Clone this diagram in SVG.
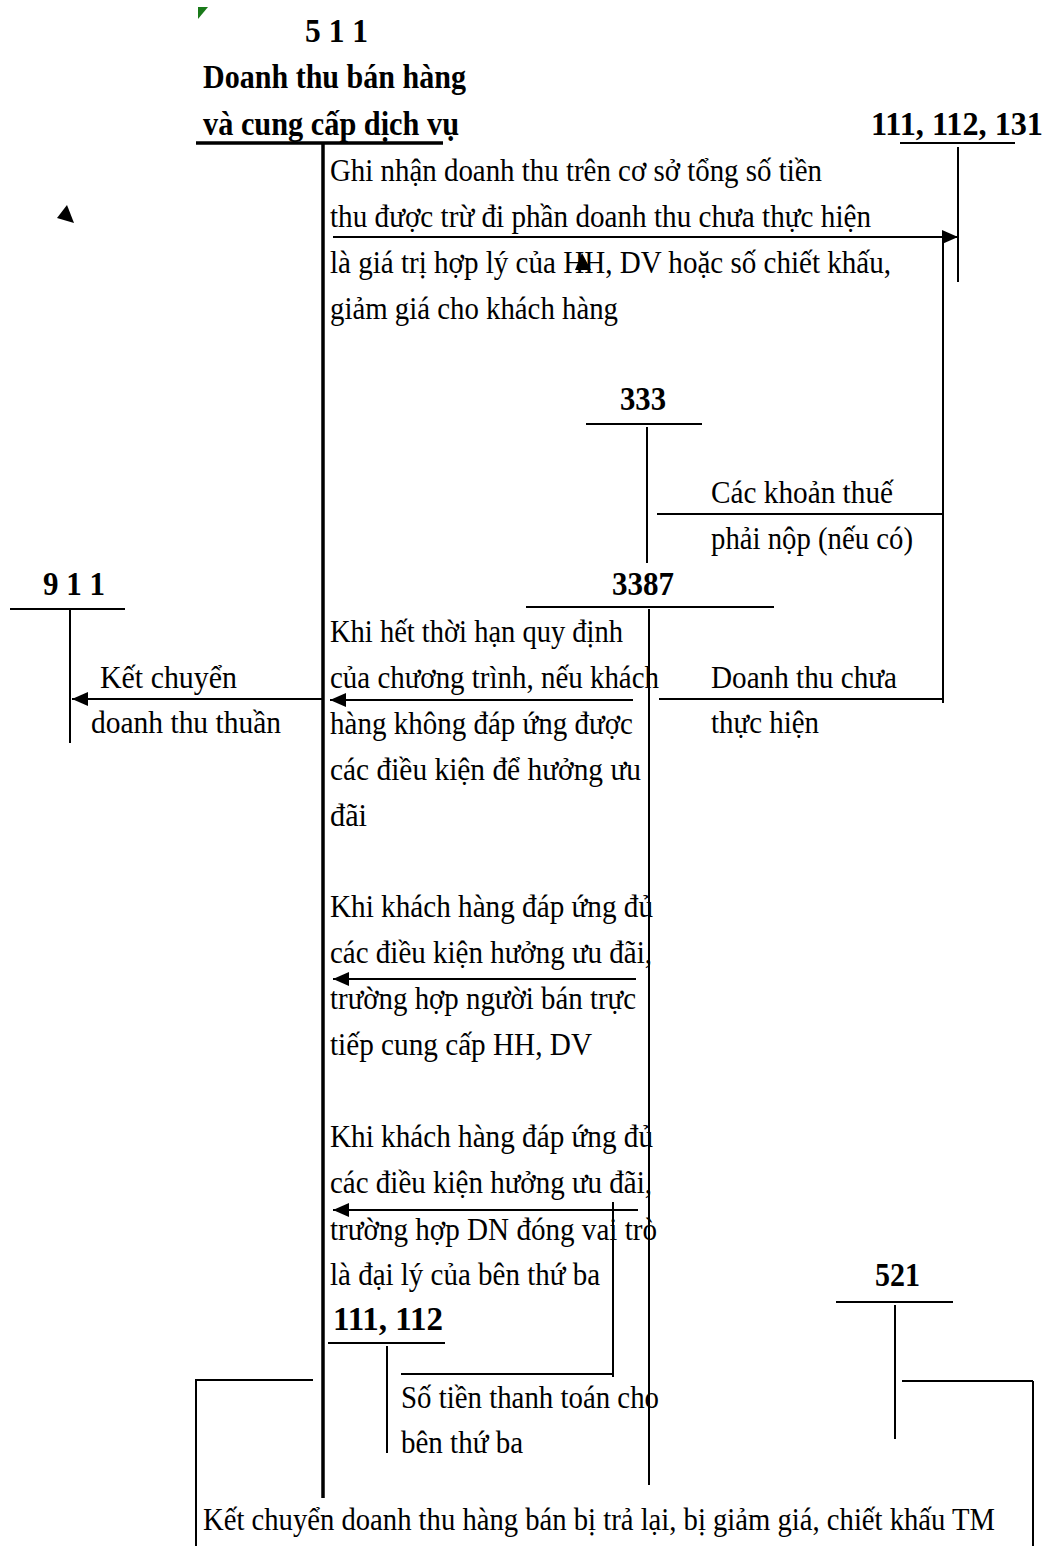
<svg xmlns="http://www.w3.org/2000/svg" width="1053" height="1546" viewBox="0 0 1053 1546">
<style>
  .t { font-family: "Liberation Serif", "Times New Roman", serif; font-size: 32px; fill: #000; }
  .b { font-family: "Liberation Serif", "Times New Roman", serif; font-size: 33px; font-weight: bold; fill: #000; }
  .ln { stroke: #000; stroke-width: 2; fill: none; }
  .thick { stroke: #000; stroke-width: 3.5; fill: none; }
  .arr { stroke: #000; stroke-width: 2; fill: none; marker-end: url(#ah); }
</style>
<defs>
  <marker id="ah" viewBox="0 0 16 14" markerUnits="userSpaceOnUse" markerWidth="16" markerHeight="14" refX="16" refY="7" orient="auto">
    <path d="M0,0 L16,7 L0,14 z" fill="#000"/>
  </marker>
</defs>
<rect width="1053" height="1546" fill="#fff"/>

<g id="stray-marks">
  <polygon points="198,7 208,7 198,19" fill="#1a7a1a"/>
  <polygon points="67,205 57,218 74,223" fill="#000"/>
  <polygon points="582,253 575,270 591,270" fill="#000"/>
</g>

<g id="acc-511">
  <text class="b" x="305" y="42" textLength="63" lengthAdjust="spacingAndGlyphs">5 1 1</text>
  <text class="b" x="203" y="88" textLength="263" lengthAdjust="spacingAndGlyphs">Doanh thu bán hàng</text>
  <text class="b" x="203" y="135" textLength="256" lengthAdjust="spacingAndGlyphs">và cung cấp dịch vụ</text>
  <line class="thick" x1="196" y1="143" x2="443" y2="143"/>
  <line class="thick" x1="323" y1="143" x2="323" y2="1498"/>
</g>

<g id="acc-111-112-131">
  <text class="b" x="871" y="135" textLength="172" lengthAdjust="spacingAndGlyphs">111, 112, 131</text>
  <line class="ln" x1="900" y1="143" x2="1015" y2="143"/>
  <line class="ln" x1="958" y1="147" x2="958" y2="282"/>
</g>

<g id="acc-333">
  <text class="b" x="620" y="410" textLength="46" lengthAdjust="spacingAndGlyphs">333</text>
  <line class="ln" x1="586" y1="424" x2="702" y2="424"/>
  <line class="ln" x1="647" y1="427" x2="647" y2="563"/>
</g>

<g id="acc-3387">
  <text class="b" x="612" y="595" textLength="62" lengthAdjust="spacingAndGlyphs">3387</text>
  <line class="ln" x1="526" y1="607" x2="774" y2="607"/>
  <line class="ln" x1="649" y1="609" x2="649" y2="1485"/>
</g>

<g id="acc-911">
  <text class="b" x="43" y="595" textLength="62" lengthAdjust="spacingAndGlyphs">9 1 1</text>
  <line class="ln" x1="10" y1="609" x2="125" y2="609"/>
  <line class="ln" x1="70" y1="610" x2="70" y2="743"/>
</g>

<g id="acc-111-112">
  <text class="b" x="333" y="1330" textLength="110" lengthAdjust="spacingAndGlyphs">111, 112</text>
  <line class="ln" x1="328" y1="1343" x2="445" y2="1343"/>
  <line class="ln" x1="387" y1="1346" x2="387" y2="1453"/>
</g>

<g id="acc-521">
  <text class="b" x="875" y="1286" textLength="45" lengthAdjust="spacingAndGlyphs">521</text>
  <line class="ln" x1="836" y1="1302" x2="953" y2="1302"/>
  <line class="ln" x1="895" y1="1305" x2="895" y2="1439"/>
</g>

<g id="connectors">
  <line class="arr" x1="333" y1="237" x2="958" y2="237"/>
  <line class="ln" x1="943" y1="237" x2="943" y2="703"/>
  <line class="ln" x1="657" y1="514" x2="943" y2="514"/>
  <line class="ln" x1="659" y1="699" x2="943" y2="699"/>
  <line class="arr" x1="633" y1="700" x2="330" y2="700"/>
  <line class="arr" x1="323" y1="699" x2="72" y2="699"/>
  <line class="arr" x1="636" y1="979" x2="333" y2="979"/>
  <line class="arr" x1="638" y1="1210" x2="333" y2="1210"/>
  <line class="ln" x1="613" y1="1202" x2="613" y2="1377"/>
  <line class="ln" x1="401" y1="1374" x2="613" y2="1374"/>
  <line class="ln" x1="196" y1="1380" x2="313" y2="1380"/>
  <line class="ln" x1="196" y1="1379" x2="196" y2="1546"/>
  <line class="ln" x1="902" y1="1381" x2="1033" y2="1381"/>
  <line class="ln" x1="1033" y1="1381" x2="1033" y2="1546"/>
</g>

<g id="labels">
  <text class="t" x="330" y="181" textLength="492" lengthAdjust="spacingAndGlyphs">Ghi nhận doanh thu trên cơ sở tổng số tiền</text>
  <text class="t" x="330" y="227" textLength="541" lengthAdjust="spacingAndGlyphs">thu được trừ đi phần doanh thu chưa thực hiện</text>
  <text class="t" x="330" y="273" textLength="561" lengthAdjust="spacingAndGlyphs">là giá trị hợp lý của HH, DV hoặc số chiết khấu,</text>
  <text class="t" x="330" y="319" textLength="288" lengthAdjust="spacingAndGlyphs">giảm giá cho khách hàng</text>

  <text class="t" x="711" y="503" textLength="182" lengthAdjust="spacingAndGlyphs">Các khoản thuế</text>
  <text class="t" x="711" y="549" textLength="202" lengthAdjust="spacingAndGlyphs">phải nộp (nếu có)</text>

  <text class="t" x="711" y="688" textLength="186" lengthAdjust="spacingAndGlyphs">Doanh thu chưa</text>
  <text class="t" x="711" y="733" textLength="108" lengthAdjust="spacingAndGlyphs">thực hiện</text>

  <text class="t" x="100" y="688" textLength="137" lengthAdjust="spacingAndGlyphs">Kết chuyển</text>
  <text class="t" x="91" y="733" textLength="190" lengthAdjust="spacingAndGlyphs">doanh thu thuần</text>

  <text class="t" x="330" y="642" textLength="293" lengthAdjust="spacingAndGlyphs">Khi hết thời hạn quy định</text>
  <text class="t" x="330" y="688" textLength="329" lengthAdjust="spacingAndGlyphs">của chương trình, nếu khách</text>
  <text class="t" x="330" y="734" textLength="303" lengthAdjust="spacingAndGlyphs">hàng không đáp ứng được</text>
  <text class="t" x="330" y="780" textLength="311" lengthAdjust="spacingAndGlyphs">các điều kiện để hưởng ưu</text>
  <text class="t" x="330" y="826" textLength="37" lengthAdjust="spacingAndGlyphs">đãi</text>

  <text class="t" x="330" y="917" textLength="323" lengthAdjust="spacingAndGlyphs">Khi khách hàng đáp ứng đủ</text>
  <text class="t" x="330" y="963" textLength="322" lengthAdjust="spacingAndGlyphs">các điều kiện hưởng ưu đãi,</text>
  <text class="t" x="330" y="1009" textLength="306" lengthAdjust="spacingAndGlyphs">trường hợp người bán trực</text>
  <text class="t" x="330" y="1055" textLength="262" lengthAdjust="spacingAndGlyphs">tiếp cung cấp HH, DV</text>

  <text class="t" x="330" y="1147" textLength="323" lengthAdjust="spacingAndGlyphs">Khi khách hàng đáp ứng đủ</text>
  <text class="t" x="330" y="1193" textLength="322" lengthAdjust="spacingAndGlyphs">các điều kiện hưởng ưu đãi,</text>
  <text class="t" x="330" y="1240" textLength="327" lengthAdjust="spacingAndGlyphs">trường hợp DN đóng vai trò</text>
  <text class="t" x="330" y="1285" textLength="270" lengthAdjust="spacingAndGlyphs">là đại lý của bên thứ ba</text>

  <text class="t" x="401" y="1408" textLength="258" lengthAdjust="spacingAndGlyphs">Số tiền thanh toán cho</text>
  <text class="t" x="401" y="1453" textLength="122" lengthAdjust="spacingAndGlyphs">bên thứ ba</text>

  <text class="t" x="203" y="1530" textLength="792" lengthAdjust="spacingAndGlyphs">Kết chuyển doanh thu hàng bán bị trả lại, bị giảm giá, chiết khấu TM</text>
</g>
</svg>
